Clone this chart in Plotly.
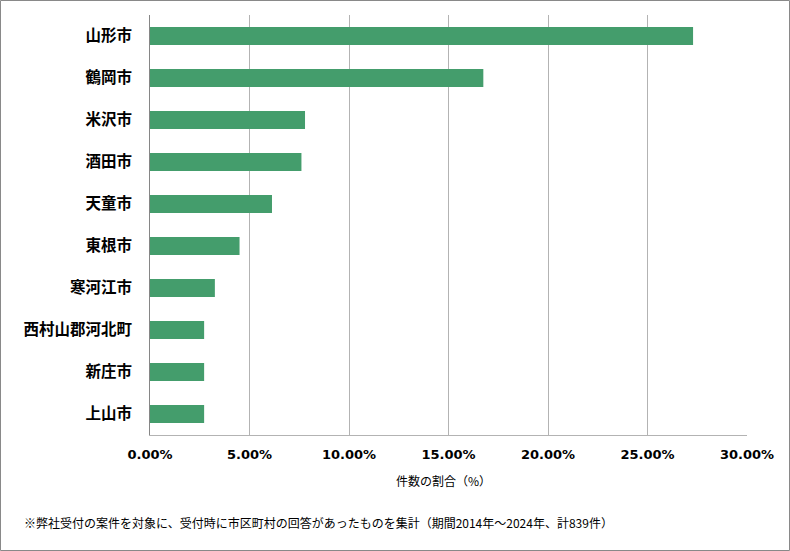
import plotly.graph_objects as go

categories = ["山形市", "鶴岡市", "米沢市", "酒田市", "天童市", "東根市", "寒河江市", "西村山郡河北町", "新庄市", "上山市"]
shares = [27.29, 16.75, 7.79, 7.61, 6.13, 4.5, 3.26, 2.72, 2.72, 2.72]
x_ticks = [0, 5, 10, 15, 20, 25, 30]
x_tick_labels = ["0.00%", "5.00%", "10.00%", "15.00%", "20.00%", "25.00%", "30.00%"]
x_title = "件数の割合（%）"
footnote = "※弊社受付の案件を対象に、受付時に市区町村の回答があったものを集計（期間2014年～2024年、計839件）"

W, H = 790, 551
L, R, T, B = 150, 43, 15, 116
pw, ph = W - L - R, H - T - B

def px_x(px):
    return (px - L) / pw

def px_y(py):
    return (H - B - py) / ph

fig = go.Figure(go.Bar(
    x=shares, y=categories, orientation="h",
    marker=dict(color="#449D6C", line=dict(width=0)),
    width=0.43,
))

fig.update_layout(
    width=W, height=H,
    margin=dict(l=L, r=R, t=T, b=B),
    paper_bgcolor="white", plot_bgcolor="white",
    showlegend=False,
    font=dict(family="Noto Sans CJK JP", color="#000000"),
    xaxis=dict(
        range=[0, 30], tickvals=x_ticks, ticktext=x_tick_labels,
        showgrid=True, gridcolor="#B3B3B3", gridwidth=1,
        zeroline=False, showline=True, linecolor="#B3B3B3", linewidth=1,
        ticks="", tickfont=dict(family="DejaVu Sans", size=13, color="#000000", weight="bold"),
        ticklabelstandoff=7,
    ),
    yaxis=dict(
        categoryorder="array", categoryarray=categories[::-1],
        range=[-0.5, len(categories) - 0.5],
        showgrid=False, zeroline=False,
        showline=True, linecolor="#868686", linewidth=1,
        ticks="", tickfont=dict(family="Noto Sans CJK JP", size=15.5, color="#000000", weight="bold"),
        ticklabelstandoff=14,
    ),
    annotations=[
        dict(text=x_title, xref="paper", yref="paper", x=px_x(443.5), y=px_y(480),
             xanchor="center", yanchor="middle", showarrow=False,
             font=dict(family="Noto Sans CJK JP", size=12, color="#000000")),
        dict(text=footnote, xref="paper", yref="paper", x=px_x(22), y=px_y(522),
             xanchor="left", yanchor="middle", showarrow=False,
             font=dict(family="Noto Sans CJK JP", size=12, color="#000000")),
    ],
    shapes=[
        dict(type="rect", xref="paper", yref="paper",
             x0=px_x(0.5), x1=px_x(789.5), y0=px_y(550.5), y1=px_y(0.5),
             line=dict(color="#898989", width=1), fillcolor="rgba(0,0,0,0)", layer="above"),
    ],
)

fig.write_html("out.html")
